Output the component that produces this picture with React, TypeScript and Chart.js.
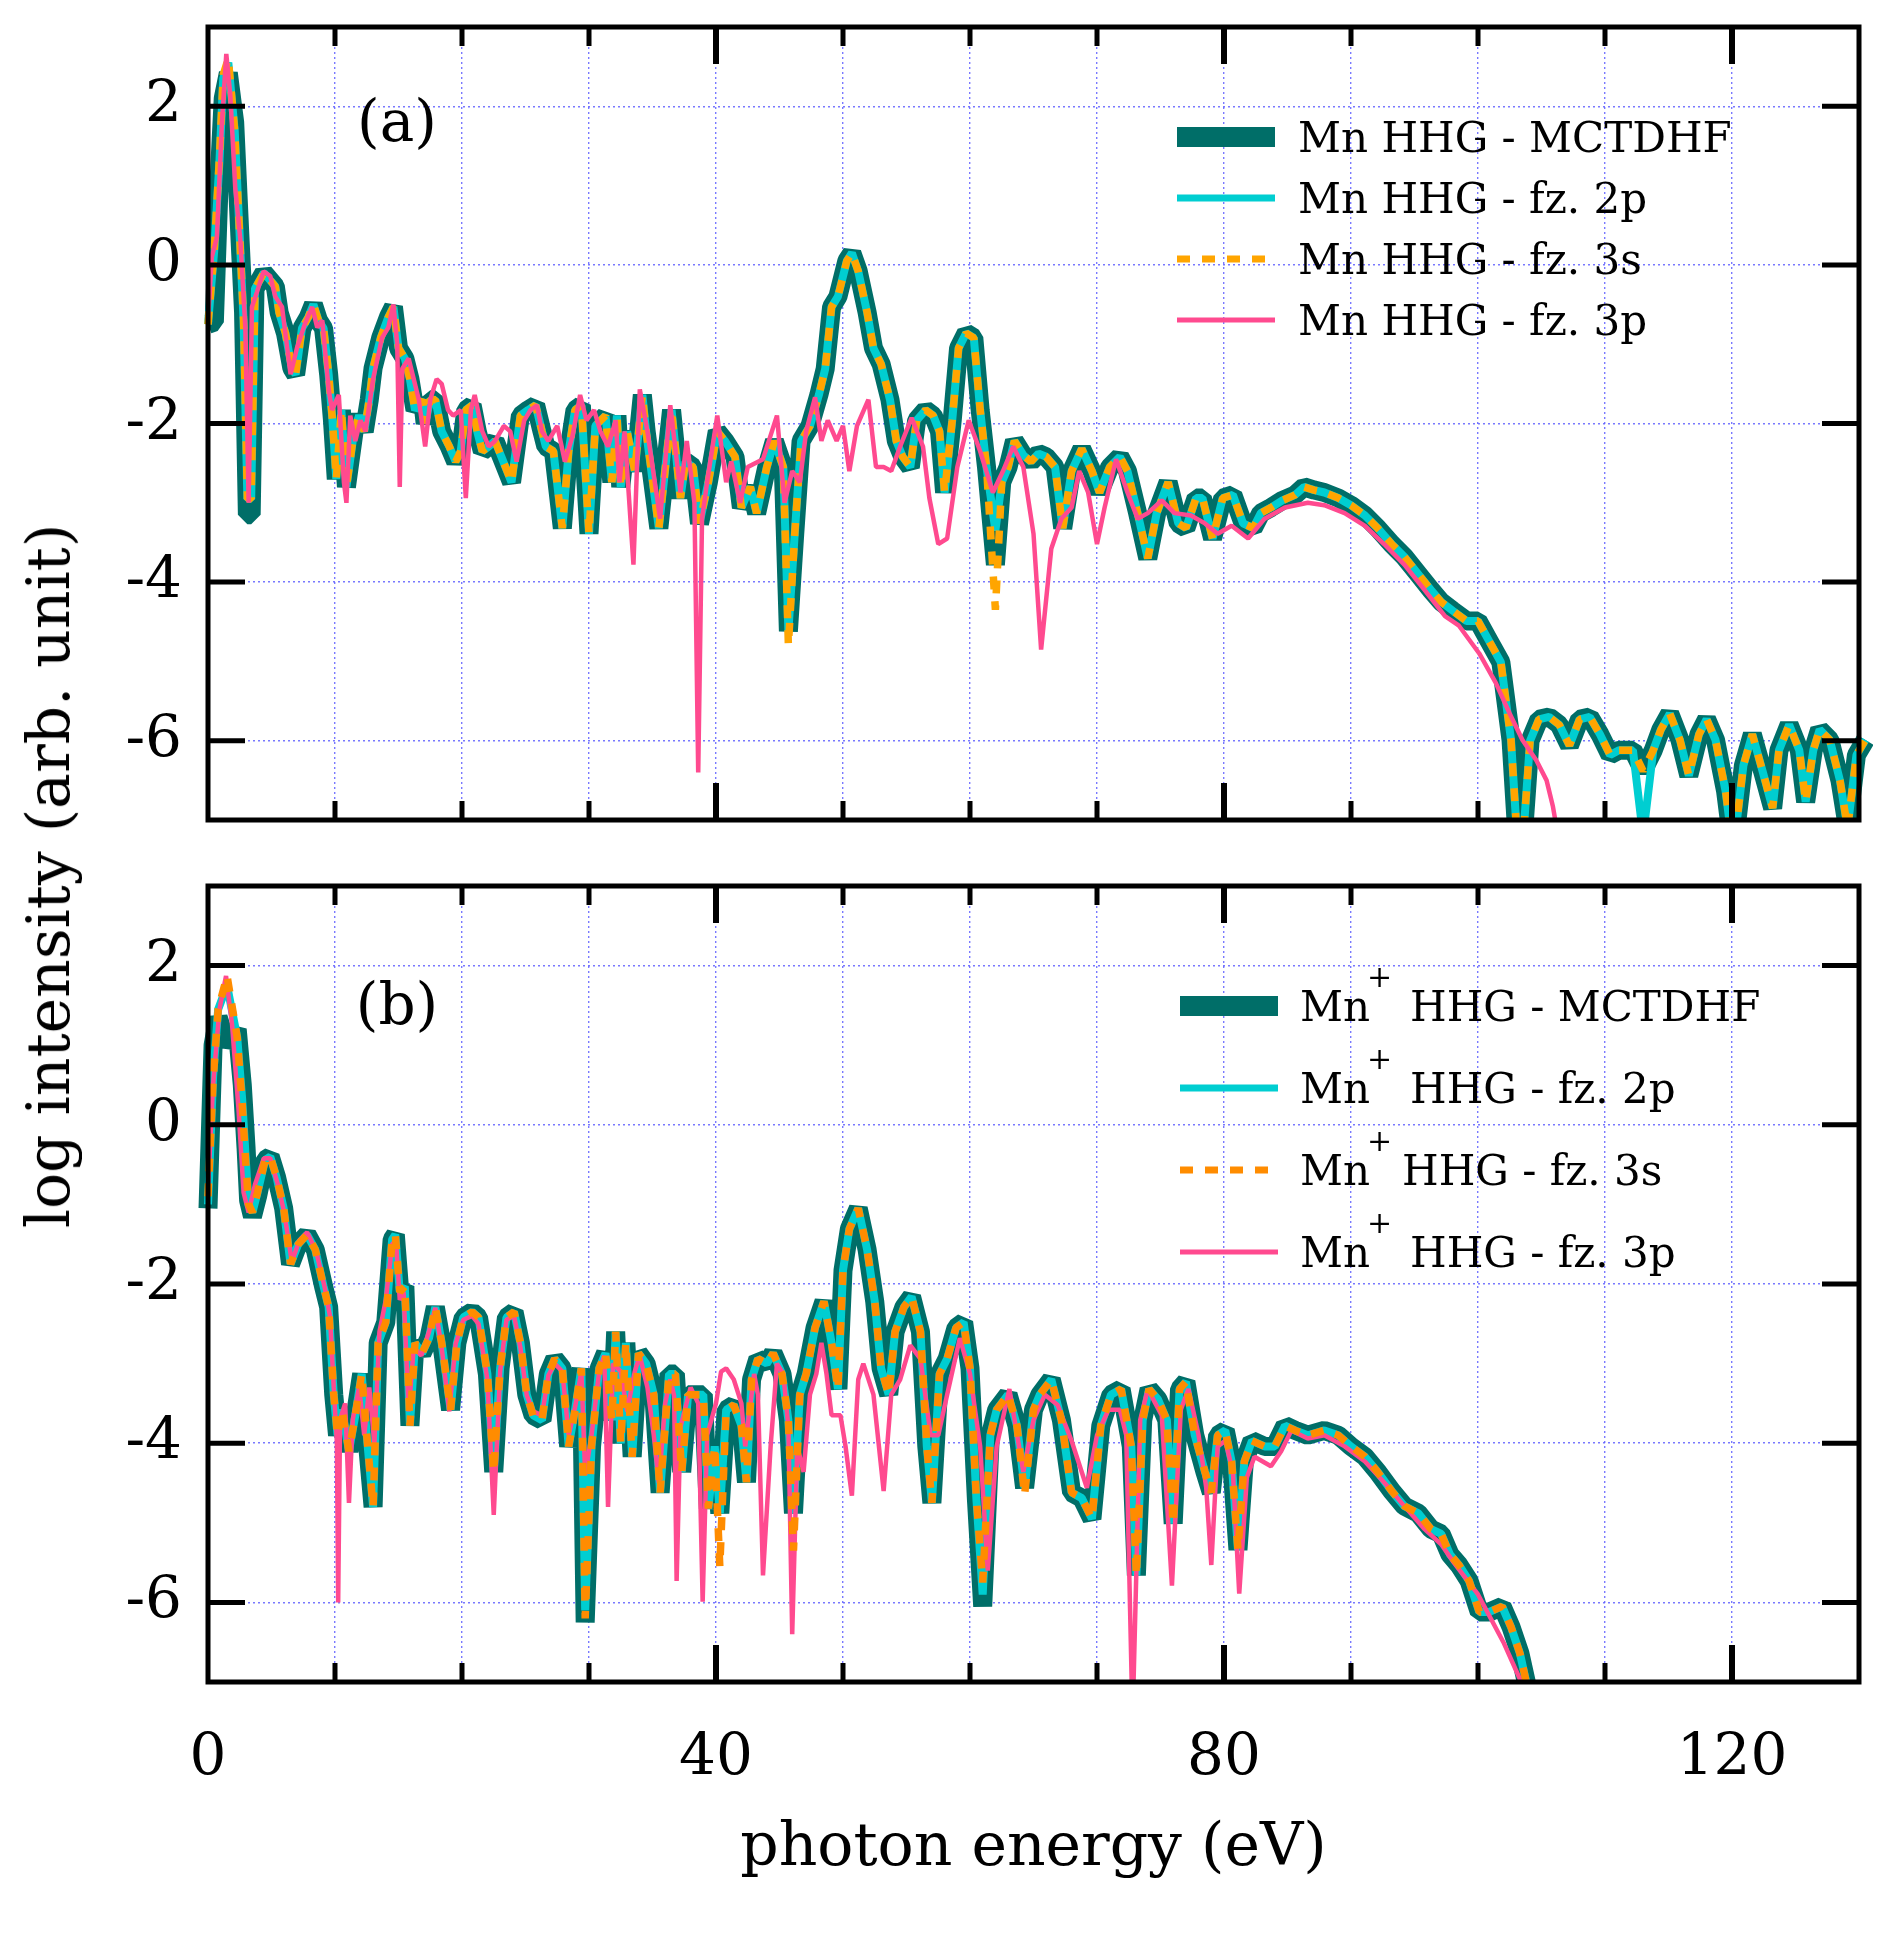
import React, { useEffect, useRef } from 'react';
import { Chart, registerables } from 'chart.js';

Chart.register(...registerables);

const FONT = '"DejaVu Serif", "Liberation Serif", serif';

// ---------- axes ----------
const X_MIN = 0;
const X_MAX = 130;
const Y_MIN = -7;
const Y_MAX = 3;
const X_GRID = [0, 10, 20, 30, 40, 50, 60, 70, 80, 90, 100, 110, 120, 130];
const X_LABELED = [0, 40, 80, 120];
const X_FRAME_TICKS = [10, 20, 30, 40, 50, 60, 70, 80, 90, 100, 110, 120];
const Y_TICKS = [-6, -4, -2, 0, 2];

// ---------- panel (a): Mn ----------
const ENERGY_A = [
  0, 0.5, 0.9, 1.2, 1.6, 2.1, 2.5, 2.8, 3.1, 3.4,
  3.7, 4.4, 5.3, 5.6, 6.1, 6.6, 6.9, 7.4, 7.9, 8.3,
  8.7, 9.1, 9.5, 9.8, 10.1, 10.5, 10.9, 11.5, 11.9, 12.3,
  12.7, 13.0, 13.6, 14.2, 14.6, 15.0, 15.5, 15.9, 16.3, 16.9,
  17.1, 17.5, 17.9, 18.4, 19.0, 19.5, 19.9, 20.3, 20.8, 21.2,
  21.6, 22.1, 22.6, 23.1, 23.9, 24.6, 25.2, 25.8, 26.3, 26.6,
  27.2, 27.9, 28.4, 28.9, 29.4, 30.0, 30.5, 31.3, 31.8, 32.2,
  32.5, 33.0, 33.6, 34.2, 34.5, 35.5, 36.5, 37.2, 37.6, 38.2,
  38.7, 39.4, 40.1, 40.7, 41.5, 42.0, 42.7, 43.2, 44.0, 44.6,
  45.3, 45.7, 46.2, 46.7, 47.4, 48.1, 48.6, 49.1, 49.6, 50.3,
  50.7, 51.2, 51.9, 52.4, 53.0, 53.7, 54.2, 54.7, 55.3, 55.8,
  56.5, 57.1, 57.6, 58.0, 58.6, 59.1, 59.7, 60.3, 60.8, 61.3,
  62.0, 62.5, 63.0, 63.5, 64.2, 64.8, 65.4, 66.0, 66.7, 67.3,
  68.0, 68.8, 69.6, 70.2, 71.0, 71.8, 72.4, 73.2, 74.0, 74.7,
  75.6, 76.4, 77.0, 77.8, 78.3, 79.1, 79.9, 80.7, 81.5, 82.3,
  82.9, 83.7, 84.6, 85.6, 86.3, 87.1, 87.9, 89.0, 90.0, 91.1,
  92.1, 93.2, 94.2, 95.3, 96.3, 97.1, 98.0, 99.1, 100.0, 100.9,
  101.8, 102.6, 103.3, 104.1, 104.8, 105.6, 106.4, 107.2, 108.0, 108.8,
  109.6, 110.4, 111.1, 112.2, 113.0, 113.8, 114.4, 115.1, 115.9, 116.6,
  117.4, 118.0, 118.7, 119.5, 120.1, 120.9, 121.6, 122.4, 123.2, 123.7,
  124.5, 125.3, 125.8, 126.4, 126.9, 127.7, 128.5, 129.1, 129.8, 130.5,
];

const MN_MCTDHF = [
  -0.75, -0.72, 1.15, 2.1, 2.42, 1.8, 0.4, -0.6, -3.15, -3.15,
  -0.3, -0.1, -0.27, -0.6, -0.86, -1.3, -1.38, -0.8, -0.66, -0.5,
  -0.7, -0.8, -1.38, -1.96, -2.7, -1.83, -2.8, -2.1, -1.9, -2.1,
  -1.7, -1.3, -0.92, -0.66, -0.53, -1.05, -1.18, -1.44, -1.83, -1.7,
  -2.0, -1.7, -1.7, -2.1, -2.29, -2.48, -2.35, -1.83, -1.77, -2.1,
  -2.35, -2.29, -2.22, -2.42, -2.74, -1.9, -1.83, -1.77, -2.1, -2.29,
  -2.35, -3.32, -2.35, -1.83, -1.77, -3.39, -2.03, -1.9, -2.74, -1.9,
  -2.8, -2.1, -2.6, -1.64, -2.1, -3.32, -1.83, -2.94, -2.48, -2.55,
  -3.26, -2.74, -2.1, -2.22, -2.42, -3.06, -2.8, -3.13, -2.55, -2.22,
  -2.55, -4.62, -3.39, -2.22, -2.03, -1.64, -1.31, -0.53, -0.4, 0.05,
  0.15, -0.08, -0.6, -1.05, -1.25, -1.7, -2.22, -2.42, -2.55, -1.96,
  -1.83, -1.9, -2.1, -2.87, -1.96, -1.05, -0.86, -0.92, -1.83, -2.55,
  -3.78, -2.74, -2.55, -2.22, -2.4, -2.48, -2.38, -2.42, -2.55, -3.32,
  -2.6, -2.32, -2.6, -2.87, -2.55, -2.42, -2.6, -3.13, -3.7, -3.13,
  -2.74, -3.26, -3.32, -2.94, -2.94, -3.45, -2.94, -2.9, -3.26, -3.32,
  -3.13, -3.06, -2.97, -2.9, -2.8, -2.84, -2.87, -2.94, -3.03, -3.16,
  -3.32, -3.52, -3.68, -3.9, -4.1, -4.25, -4.36, -4.49, -4.49, -4.75,
  -5.01, -5.99, -7.8, -6.0, -5.73, -5.7, -5.8, -6.06, -5.73, -5.7,
  -5.92, -6.18, -6.12, -6.12, -6.38, -6.12, -5.86, -5.66, -5.99, -6.44,
  -5.92, -5.73, -5.99, -6.64, -7.4, -6.31, -5.92, -6.38, -6.85, -6.12,
  -5.8, -6.12, -6.77, -6.12, -5.86, -5.99, -6.5, -7.1, -6.18, -5.99,
];

const MN_FZ2P = [
  -0.75, 0.2, 1.3, 2.35, 2.55, 1.7, 0.35, -0.7, -2.95, -2.95,
  -0.3, -0.1, -0.27, -0.6, -0.86, -1.3, -1.38, -0.8, -0.66, -0.5,
  -0.7, -0.8, -1.38, -1.96, -2.7, -1.83, -2.8, -2.1, -1.9, -2.1,
  -1.7, -1.3, -0.92, -0.66, -0.53, -1.05, -1.18, -1.44, -1.83, -1.7,
  -2.0, -1.7, -1.7, -2.1, -2.29, -2.48, -2.35, -1.83, -1.77, -2.1,
  -2.35, -2.29, -2.22, -2.42, -2.74, -1.9, -1.83, -1.77, -2.1, -2.29,
  -2.35, -3.32, -2.35, -1.83, -1.77, -3.39, -2.03, -1.9, -2.74, -1.9,
  -2.8, -2.1, -2.6, -1.64, -2.1, -3.32, -1.83, -2.94, -2.48, -2.55,
  -3.26, -2.74, -2.1, -2.22, -2.42, -3.06, -2.8, -3.13, -2.55, -2.22,
  -2.55, -4.62, -3.39, -2.22, -2.03, -1.64, -1.31, -0.53, -0.4, 0.05,
  0.15, -0.08, -0.6, -1.05, -1.25, -1.7, -2.22, -2.42, -2.55, -1.96,
  -1.83, -1.9, -2.1, -2.87, -1.96, -1.05, -0.86, -0.92, -1.83, -2.55,
  -3.35, -2.74, -2.55, -2.22, -2.4, -2.48, -2.38, -2.42, -2.55, -3.32,
  -2.6, -2.32, -2.6, -2.87, -2.55, -2.42, -2.6, -3.13, -3.7, -3.13,
  -2.74, -3.26, -3.32, -2.94, -2.94, -3.45, -2.94, -2.9, -3.26, -3.32,
  -3.13, -3.06, -2.97, -2.9, -2.8, -2.84, -2.87, -2.94, -3.03, -3.16,
  -3.32, -3.52, -3.68, -3.9, -4.1, -4.25, -4.36, -4.49, -4.49, -4.75,
  -5.01, -5.99, -7.8, -6.0, -5.73, -5.7, -5.8, -6.06, -5.73, -5.7,
  -5.92, -6.18, -6.12, -6.12, -7.2, -6.12, -5.86, -5.66, -5.99, -6.44,
  -5.92, -5.73, -5.99, -6.64, -7.4, -6.31, -5.92, -6.38, -6.85, -6.12,
  -5.8, -6.12, -6.77, -6.12, -5.86, -5.99, -6.5, -7.1, -6.18, -5.99,
];

const MN_FZ3S = [
  -0.75, 0.2, 1.35, 2.4, 2.6, 1.7, 0.35, -0.7, -2.95, -2.95,
  -0.3, -0.1, -0.27, -0.6, -0.86, -1.3, -1.38, -0.8, -0.66, -0.5,
  -0.7, -0.8, -1.38, -1.96, -2.7, -1.83, -2.8, -2.1, -1.9, -2.1,
  -1.7, -1.3, -0.92, -0.66, -0.53, -1.05, -1.18, -1.44, -1.83, -1.7,
  -2.0, -1.7, -1.7, -2.1, -2.29, -2.48, -2.35, -1.83, -1.77, -2.1,
  -2.35, -2.29, -2.22, -2.42, -2.74, -1.9, -1.83, -1.77, -2.1, -2.29,
  -2.35, -3.32, -2.35, -1.83, -1.77, -3.39, -2.03, -1.9, -2.74, -1.9,
  -2.8, -2.1, -2.6, -1.64, -2.1, -3.32, -1.83, -2.94, -2.48, -2.55,
  -3.26, -2.74, -2.1, -2.22, -2.42, -3.06, -2.8, -3.13, -2.55, -2.22,
  -2.55, -4.8, -3.39, -2.22, -2.03, -1.64, -1.31, -0.53, -0.4, 0.05,
  0.15, -0.08, -0.6, -1.05, -1.25, -1.7, -2.22, -2.42, -2.55, -1.96,
  -1.83, -1.9, -2.1, -2.87, -1.96, -1.05, -0.86, -0.92, -1.83, -2.55,
  -4.35, -2.74, -2.55, -2.22, -2.4, -2.48, -2.38, -2.42, -2.55, -3.32,
  -2.6, -2.32, -2.6, -2.87, -2.55, -2.42, -2.6, -3.13, -3.7, -3.13,
  -2.74, -3.26, -3.32, -2.94, -2.94, -3.45, -2.94, -2.9, -3.26, -3.32,
  -3.13, -3.06, -2.97, -2.9, -2.8, -2.84, -2.87, -2.94, -3.03, -3.16,
  -3.32, -3.52, -3.68, -3.9, -4.1, -4.25, -4.36, -4.49, -4.49, -4.75,
  -5.01, -5.99, -7.8, -6.0, -5.73, -5.7, -5.8, -6.06, -5.73, -5.7,
  -5.92, -6.18, -6.12, -6.12, -6.38, -6.12, -5.86, -5.66, -5.99, -6.44,
  -5.92, -5.73, -5.99, -6.64, -7.4, -6.31, -5.92, -6.38, -6.85, -6.12,
  -5.8, -6.12, -6.77, -6.12, -5.86, -5.99, -6.5, -7.1, -6.18, -5.99,
];

const ENERGY_A_3P = [
  0, 0.3, 0.7, 1.1, 1.44, 1.76, 2.15, 2.55, 2.94, 3.2,
  3.46, 3.86, 4.38, 4.9, 5.3, 5.83, 6.5, 7.0, 7.66, 8.2,
  8.6, 9.0, 9.5, 9.76, 10.3, 10.7, 10.9, 11.2, 11.6, 12.0,
  12.4, 13.0, 13.7, 14.2, 14.6, 14.9, 15.1, 15.3, 15.8, 16.2,
  16.6, 17.1, 17.5, 18.0, 18.4, 18.9, 19.3, 19.9, 20.3, 20.7,
  21.0, 21.6, 22.1, 22.6, 23.3, 23.8, 24.3, 24.9, 25.4, 25.9,
  26.3, 26.8, 27.5, 28.1, 28.7, 29.3, 29.8, 30.4, 30.9, 31.5,
  32.1, 32.4, 32.8, 33.5, 34.0, 34.6, 35.6, 36.4, 37.2, 37.7,
  38.3, 38.6, 38.9, 39.3, 40.1, 40.8, 41.2, 41.9, 42.5, 43.7,
  44.8, 45.4, 46.0, 46.6, 47.1, 47.8, 48.3, 48.8, 49.5, 50.0,
  50.5, 51.1, 52.0, 52.6, 53.2, 53.8, 54.5, 55.4, 56.3, 56.8,
  57.5, 58.2, 59.0, 59.9, 60.8, 61.8, 62.6, 63.4, 64.2, 65.0,
  65.6, 66.4, 67.2, 68.0, 68.6, 69.3, 70.0, 70.6, 71.5, 72.4,
  73.2, 74.0, 75.1, 76.1, 77.4, 78.5, 79.5, 80.6, 81.9, 83.2,
  84.8, 86.6, 87.9, 89.5, 91.1, 92.6, 94.2, 95.8, 97.4, 98.5,
  100.1, 101.4, 102.5, 103.5, 104.6, 105.4, 105.9, 106.3,
];

const MN_FZ3P = [
  -0.7, 0.1, 0.35, 1.8, 2.66, 2.13, 0.96, 0.31, -0.79, -3.0,
  -0.53, -0.34, -0.08, -0.14, -0.4, -0.53, -1.38, -1.05, -0.73, -0.53,
  -0.79, -0.7, -1.57, -1.83, -1.64, -2.74, -3.0, -1.9, -2.22, -1.96,
  -2.1, -1.44, -0.92, -0.79, -0.5, -1.0, -2.8, -1.31, -1.18, -1.44,
  -1.7, -2.29, -1.7, -1.44, -1.5, -1.83, -1.9, -1.83, -2.94, -1.83,
  -1.64, -2.1, -2.29, -2.22, -2.03, -2.1, -2.48, -1.96, -1.83, -1.77,
  -2.1, -2.22, -2.03, -2.48, -2.16, -1.64, -1.96, -1.83, -2.1, -2.29,
  -1.96, -2.74, -2.1, -3.78, -1.57, -2.1, -3.2, -1.77, -2.87, -2.22,
  -3.0, -6.4, -3.2, -2.74, -1.9, -2.74, -2.48, -3.0, -2.55, -2.45,
  -1.9, -3.0, -2.6, -2.74, -2.1, -1.67, -2.22, -1.96, -2.22, -2.03,
  -2.6, -2.03, -1.7, -2.55, -2.55, -2.6, -2.29, -1.93, -2.29, -2.94,
  -3.52, -3.45, -2.55, -1.96, -2.35, -2.87, -2.6, -2.29, -2.55, -3.39,
  -4.85, -3.58, -3.2, -3.06, -2.6, -2.87, -3.52, -3.06, -2.45, -2.87,
  -3.2, -3.13, -2.97, -3.13, -3.16, -3.26, -3.39, -3.29, -3.45, -3.2,
  -3.06, -3.0, -3.03, -3.13, -3.29, -3.52, -3.78, -4.1, -4.43, -4.55,
  -4.9, -5.27, -5.66, -5.99, -6.25, -6.5, -6.83, -7.2,
];

// ---------- panel (b): Mn+ ----------
const ENERGY_B = [
  0, 0.4, 0.8, 1.5, 2.3, 2.7, 3.0, 3.2, 3.5, 3.9,
  4.5, 4.9, 5.4, 5.96, 6.5, 7.1, 7.8, 8.45, 9.1, 9.5,
  9.9, 10.2, 10.55, 11.1, 11.6, 12.1, 12.5, 13.0, 13.4, 14.0,
  14.5, 14.75, 15.1, 15.5, 15.9, 16.3, 16.85, 17.4, 17.9, 18.4,
  19.1, 19.6, 20.1, 20.8, 21.3, 22.0, 22.5, 23.0, 23.5, 24.1,
  24.6, 25.1, 25.6, 26.3, 26.8, 27.3, 27.9, 28.4, 28.9, 29.4,
  29.7, 30.2, 30.8, 31.3, 31.8, 32.1, 32.5, 32.9, 33.4, 33.9,
  34.5, 35.1, 35.6, 36.3, 36.8, 37.3, 37.8, 38.4, 39.0, 39.4,
  39.9, 40.3, 40.8, 41.4, 42.0, 42.4, 42.8, 43.3, 44.0, 44.5,
  45.2, 45.7, 46.1, 46.6, 47.1, 47.8, 48.5, 49.1, 49.6, 50.0,
  50.5, 51.2, 51.9, 52.5, 53.0, 53.6, 54.1, 54.8, 55.4, 56.1,
  56.6, 57.0, 57.6, 58.2, 58.9, 59.5, 60.0, 60.5, 61.0, 61.6,
  62.1, 63.0, 63.7, 64.3, 65.0, 65.5, 66.4, 67.2, 68.0, 68.8,
  69.6, 70.3, 71.1, 71.9, 72.7, 73.1, 73.6, 74.1, 74.8, 75.5,
  76.0, 76.5, 77.0, 77.7, 78.5, 79.0, 79.5, 80.1, 80.6, 81.1,
  81.6, 82.2, 83.2, 84.0, 84.8, 85.6, 86.6, 87.9, 89.0, 90.0,
  91.1, 92.1, 93.2, 94.2, 95.3, 96.3, 97.1, 97.8, 98.5, 99.3,
  100.1, 100.9, 101.9, 102.6, 103.3, 103.8, 104.3,
];

const MNP_MCTDHF = [
  -1.05, 1.0, 1.35, 1.0, 1.2, 0.5, -0.3, -0.95, -1.15, -0.9,
  -0.44, -0.4, -0.66, -1.05, -1.75, -1.5, -1.38, -1.57, -2.03, -2.29,
  -3.39, -3.9, -3.58, -4.1, -3.65, -3.13, -3.9, -4.8, -2.74, -2.48,
  -1.44, -1.38, -2.1, -2.03, -3.78, -2.74, -2.87, -2.68, -2.29, -2.74,
  -3.58, -2.74, -2.42, -2.35, -2.42, -3.13, -4.36, -3.06, -2.42, -2.35,
  -2.74, -3.39, -3.65, -3.71, -3.13, -2.94, -3.06, -4.04, -3.58, -3.06,
  -6.25, -4.04, -3.06, -2.87, -3.71, -2.6, -4.0, -2.74, -4.17, -2.87,
  -3.0, -3.39, -4.62, -3.13, -3.13, -4.36, -3.39, -3.39, -3.39, -4.82,
  -4.04, -4.88, -3.58, -3.52, -3.78, -4.49, -3.2, -2.94, -3.0, -2.87,
  -3.13, -3.71, -4.88, -3.39, -3.13, -2.55, -2.22, -2.74, -3.32, -1.83,
  -1.31, -1.05, -1.57, -2.22, -3.06, -3.39, -2.6, -2.29, -2.16, -2.6,
  -4.04, -4.75, -3.13, -2.94, -2.55, -2.48, -3.06, -4.69, -6.05, -3.9,
  -3.58, -3.39, -3.78, -4.56, -3.58, -3.39, -3.2, -3.71, -4.62, -4.69,
  -4.95, -3.78, -3.39, -3.32, -4.04, -5.66, -3.71, -3.32, -3.45, -3.71,
  -5.01, -3.32, -3.23, -3.9, -4.36, -4.62, -3.9, -3.84, -4.23, -5.34,
  -4.23, -3.97, -4.04, -4.04, -3.78, -3.84, -3.9, -3.84, -3.9, -4.04,
  -4.17, -4.36, -4.6, -4.79, -4.88, -5.08, -5.14, -5.4, -5.53, -5.73,
  -6.12, -6.12, -6.05, -6.31, -6.64, -7.0, -7.4,
];

const MNP_FZ2P = [
  -1.0, 0.6, 1.45, 1.75, 1.1, 0.3, -0.5, -1.0, -1.1, -0.85,
  -0.44, -0.4, -0.66, -1.05, -1.75, -1.5, -1.38, -1.57, -2.03, -2.29,
  -3.39, -3.9, -3.58, -4.1, -3.65, -3.13, -3.9, -4.8, -2.74, -2.48,
  -1.44, -1.38, -2.1, -2.03, -3.78, -2.74, -2.87, -2.68, -2.29, -2.74,
  -3.58, -2.74, -2.42, -2.35, -2.42, -3.13, -4.36, -3.06, -2.42, -2.35,
  -2.74, -3.39, -3.65, -3.71, -3.13, -2.94, -3.06, -4.04, -3.58, -3.06,
  -6.1, -4.04, -3.06, -2.87, -3.71, -2.6, -4.0, -2.74, -4.17, -2.87,
  -3.0, -3.39, -4.62, -3.13, -3.13, -4.36, -3.39, -3.39, -3.39, -4.82,
  -4.04, -4.88, -3.58, -3.52, -3.78, -4.49, -3.2, -2.94, -3.0, -2.87,
  -3.13, -3.71, -4.88, -3.39, -3.13, -2.55, -2.22, -2.74, -3.32, -1.83,
  -1.31, -1.05, -1.57, -2.22, -3.06, -3.39, -2.6, -2.29, -2.16, -2.6,
  -4.04, -4.75, -3.13, -2.94, -2.55, -2.48, -3.06, -4.69, -5.9, -3.9,
  -3.58, -3.39, -3.78, -4.56, -3.58, -3.39, -3.2, -3.71, -4.62, -4.69,
  -4.95, -3.78, -3.39, -3.32, -4.04, -5.66, -3.71, -3.32, -3.45, -3.71,
  -5.01, -3.32, -3.23, -3.9, -4.36, -4.62, -3.9, -3.84, -4.23, -5.34,
  -4.23, -3.97, -4.04, -4.04, -3.78, -3.84, -3.9, -3.84, -3.9, -4.04,
  -4.17, -4.36, -4.6, -4.79, -4.88, -5.08, -5.14, -5.4, -5.53, -5.73,
  -6.12, -6.12, -6.05, -6.31, -6.64, -7.0, -7.4,
];

const MNP_FZ3S = [
  -0.9, 0.55, 1.45, 1.87, 1.1, 0.25, -0.55, -1.0, -1.1, -0.85,
  -0.44, -0.4, -0.66, -1.05, -1.75, -1.5, -1.38, -1.57, -2.03, -2.29,
  -3.39, -3.9, -3.58, -4.1, -3.65, -3.13, -3.9, -4.8, -2.74, -2.48,
  -1.44, -1.38, -2.1, -2.03, -3.78, -2.74, -2.87, -2.68, -2.29, -2.74,
  -3.58, -2.74, -2.42, -2.35, -2.42, -3.13, -4.36, -3.06, -2.42, -2.35,
  -2.74, -3.39, -3.65, -3.71, -3.13, -2.94, -3.06, -4.04, -3.58, -3.06,
  -6.2, -4.04, -3.06, -2.87, -3.71, -2.6, -4.0, -2.74, -4.17, -2.87,
  -3.0, -3.39, -4.62, -3.13, -3.13, -4.36, -3.39, -3.39, -3.39, -4.82,
  -4.04, -5.55, -3.58, -3.52, -3.78, -4.49, -3.2, -2.94, -3.0, -2.87,
  -3.13, -3.71, -5.35, -3.39, -3.13, -2.55, -2.22, -2.74, -3.32, -1.83,
  -1.31, -1.05, -1.57, -2.22, -3.06, -3.39, -2.6, -2.29, -2.16, -2.6,
  -4.04, -4.75, -3.13, -2.94, -2.55, -2.48, -3.06, -4.69, -5.75, -3.9,
  -3.58, -3.39, -3.78, -4.65, -3.58, -3.39, -3.2, -3.71, -4.62, -4.69,
  -4.95, -3.78, -3.39, -3.32, -4.04, -5.66, -3.71, -3.32, -3.45, -3.71,
  -5.01, -3.32, -3.23, -3.9, -4.36, -4.62, -3.9, -3.84, -4.23, -5.34,
  -4.23, -3.97, -4.04, -4.04, -3.78, -3.84, -3.9, -3.84, -3.9, -4.04,
  -4.17, -4.36, -4.6, -4.79, -4.88, -5.08, -5.14, -5.4, -5.53, -5.73,
  -6.12, -6.12, -6.05, -6.31, -6.64, -7.0, -7.4,
];

const ENERGY_B_3P = [
  0, 0.4, 0.9, 1.42, 1.9, 2.4, 2.8, 3.2, 3.7, 4.4,
  4.9, 5.5, 6.0, 6.6, 7.2, 7.8, 8.5, 9.2, 9.6, 9.9,
  10.15, 10.25, 10.4, 10.8, 11.1, 11.4, 11.9, 12.3, 12.7, 13.1,
  13.5, 14.0, 14.5, 14.8, 15.1, 15.4, 15.8, 16.2, 16.8, 17.4,
  17.9, 18.4, 19.0, 19.5, 20.1, 20.8, 21.3, 22.0, 22.5, 23.0,
  23.5, 24.1, 24.6, 25.1, 25.6, 26.3, 26.8, 27.3, 27.9, 28.4,
  28.9, 29.4, 29.7, 30.2, 30.8, 31.2, 31.5, 31.9, 32.5, 33.0,
  33.6, 34.0, 34.6, 35.1, 35.5, 36.0, 36.4, 36.7, 36.9, 37.2,
  38.0, 38.6, 38.95, 39.3, 40.0, 40.4, 40.8, 41.4, 42.0, 42.3,
  43.0, 43.3, 43.7, 44.3, 44.8, 45.3, 45.7, 46.0, 46.4, 46.9,
  47.4, 47.9, 48.3, 48.7, 49.1, 49.8, 50.2, 50.7, 51.2, 51.6,
  52.4, 53.2, 53.8, 54.5, 55.3, 56.1, 56.9, 57.5, 58.2, 59.2,
  60.0, 60.8, 61.4, 62.1, 63.1, 64.2, 65.0, 65.9, 66.9, 68.0,
  69.2, 70.0, 70.9, 71.8, 72.3, 72.8, 73.4, 74.0, 75.1, 75.9,
  76.6, 77.2, 78.0, 78.6, 79.0, 79.5, 80.1, 80.7, 81.2, 81.8,
  82.4, 83.7, 84.5, 85.3, 86.6, 87.9, 89.5, 91.1, 92.6, 94.2,
  95.8, 97.1, 98.1, 100.0, 102.0, 103.4, 103.8,
];

const MNP_FZ3P = [
  -0.8, 0.5, 1.45, 1.87, 1.25, 0.2, -0.85, -1.1, -0.75, -0.42,
  -0.42, -0.75, -1.1, -1.72, -1.45, -1.35, -1.58, -2.05, -2.4, -3.3,
  -4.0, -6.0, -3.7, -3.5, -4.75, -3.7, -3.3, -3.9, -3.3, -4.0,
  -2.6, -2.2, -1.5, -1.45, -2.2, -2.1, -3.6, -2.8, -2.9, -2.6,
  -2.3, -2.8, -3.6, -2.75, -2.45, -2.4, -2.5, -3.2, -4.9, -3.1,
  -2.45, -2.4, -2.8, -3.4, -3.6, -3.65, -3.15, -3.0, -3.1, -3.9,
  -3.55, -3.1, -4.4, -3.9, -3.1, -2.9, -4.8, -3.0, -3.1, -3.6,
  -3.1, -2.9, -3.3, -3.9, -4.5, -3.5, -3.2, -3.4, -5.73, -3.8,
  -3.3, -3.5, -5.99, -3.9, -3.5, -3.1, -3.06, -3.2, -3.5, -4.04,
  -3.13, -3.39, -5.66, -4.04, -3.0, -3.13, -3.8, -6.4, -4.04, -4.36,
  -3.39, -3.13, -2.74, -3.13, -3.65, -3.65, -4.04, -4.66, -3.2, -3.0,
  -3.39, -4.6, -3.39, -3.2, -2.77, -2.94, -3.9, -3.9, -3.39, -2.68,
  -3.13, -4.04, -5.6, -4.04, -3.32, -4.36, -3.71, -3.39, -3.52, -3.97,
  -4.56, -3.9, -3.58, -3.58, -3.9, -7.5, -3.71, -3.32, -3.65, -5.79,
  -3.58, -3.32, -3.9, -4.56, -5.53, -4.04, -3.97, -4.36, -5.89, -4.43,
  -4.17, -4.29, -4.1, -3.84, -3.94, -3.9, -4.04, -4.23, -4.49, -4.79,
  -5.08, -5.27, -5.5, -5.9, -6.5, -7.0, -7.2,
];

// ---------- styling ----------
const TEAL = '#006e68';
const CYAN = '#00ced1';
const ORANGE_A = '#ffa500';
const ORANGE_B = '#ff8c00';
const PINK = '#ff4a8f';
const GRID = 'rgba(98, 98, 255, 0.85)';

const TICK_SIZE = 58;
const TITLE_SIZE = 60;
const LEGEND_SIZE = 42;
const TAG_SIZE = 58;

const PAGE_W = 1890;
const PLOT_LEFT = 208;
const PLOT_RIGHT = 1859;

type Run = { t: string; dx: number; size?: number; dy?: number };
type Series = {
  xs: number[];
  ys: number[];
  color: string;
  width: number;
  legendWidth: number;
  dash?: number[];
  order: number;
  text: Run[];
};

const supRuns = (rest: string, restDx: number): Run[] => [
  { t: 'Mn', dx: 0 },
  { t: '+', dx: 67, size: 30, dy: -34 },
  { t: rest, dx: restDx },
];

const PANEL_A = {
  height: 850,
  top: 27,
  bottom: 820,
  showXLabels: false,
  tag: { text: '(a)', x: 397, y: 126 },
  legend: { hx0: 1177, hx1: 1275, tx: 1298, y0: 137, dy: 61 },
  series: [
    { xs: ENERGY_A, ys: MN_MCTDHF, color: TEAL, width: 19, legendWidth: 20, order: 4, text: [{ t: 'Mn HHG - MCTDHF', dx: 0 }] },
    { xs: ENERGY_A, ys: MN_FZ2P, color: CYAN, width: 8, legendWidth: 7, order: 3, text: [{ t: 'Mn HHG - fz. 2p', dx: 0 }] },
    { xs: ENERGY_A, ys: MN_FZ3S, color: ORANGE_A, width: 7.5, legendWidth: 7, dash: [13, 12], order: 2, text: [{ t: 'Mn HHG - fz. 3s', dx: 0 }] },
    { xs: ENERGY_A_3P, ys: MN_FZ3P, color: PINK, width: 4.5, legendWidth: 5, order: 1, text: [{ t: 'Mn HHG - fz. 3p', dx: 0 }] },
  ] as Series[],
};

const PANEL_B = {
  height: 1084,
  top: 36,
  bottom: 832,
  showXLabels: true,
  tag: { text: '(b)', x: 397, y: 159 },
  legend: { hx0: 1180, hx1: 1278, tx: 1300, y0: 156, dy: 82 },
  series: [
    { xs: ENERGY_B, ys: MNP_MCTDHF, color: TEAL, width: 19, legendWidth: 20, order: 4, text: supRuns('HHG - MCTDHF', 110) },
    { xs: ENERGY_B, ys: MNP_FZ2P, color: CYAN, width: 8, legendWidth: 7, order: 3, text: supRuns('HHG - fz. 2p', 110) },
    { xs: ENERGY_B, ys: MNP_FZ3S, color: ORANGE_B, width: 7.5, legendWidth: 7, dash: [13, 12], order: 1, text: supRuns('HHG - fz. 3s', 102) },
    { xs: ENERGY_B_3P, ys: MNP_FZ3P, color: PINK, width: 4.5, legendWidth: 5, order: 2, text: supRuns('HHG - fz. 3p', 110) },
  ] as Series[],
};

type Panel = typeof PANEL_A;

function toDataset(s: Series) {
  return {
    label: s.text.map((r) => r.t).join(''),
    data: s.xs.map((x, i) => ({ x, y: s.ys[i] })),
    borderColor: s.color,
    borderWidth: s.width,
    borderDash: s.dash ?? [],
    borderJoinStyle: 'bevel',
    borderCapStyle: 'butt',
    pointRadius: 0,
    pointHoverRadius: 0,
    tension: 0,
    fill: false,
    order: s.order,
    clip: { left: 10, top: 0, right: 14, bottom: 0 },
  };
}

// legend, panel tag, frame and inward tick marks
function decorPlugin(panel: Panel) {
  return {
    id: 'panelDecor',
    afterDraw(chart: any) {
      const ctx: CanvasRenderingContext2D = chart.ctx;
      const area = chart.chartArea;
      const xs = chart.scales.x;
      const ys = chart.scales.y;
      const lg = panel.legend;

      ctx.save();
      panel.series.forEach((s, i) => {
        const y = lg.y0 + i * lg.dy;
        ctx.save();
        ctx.beginPath();
        ctx.strokeStyle = s.color;
        ctx.lineWidth = s.legendWidth;
        ctx.lineCap = 'butt';
        ctx.setLineDash(s.dash ?? []);
        ctx.moveTo(lg.hx0, y);
        ctx.lineTo(lg.hx1, y);
        ctx.stroke();
        ctx.restore();

        const base = y + (LEGEND_SIZE * 0.729) / 2;
        ctx.fillStyle = '#000';
        ctx.textAlign = 'left';
        ctx.textBaseline = 'alphabetic';
        s.text.forEach((run) => {
          ctx.font = `${run.size ?? LEGEND_SIZE}px ${FONT}`;
          ctx.fillText(run.t, lg.tx + run.dx, base + (run.dy ?? 0));
        });
      });

      ctx.font = `${TAG_SIZE}px ${FONT}`;
      ctx.fillStyle = '#000';
      ctx.textAlign = 'center';
      ctx.textBaseline = 'middle';
      ctx.fillText(panel.tag.text, panel.tag.x, panel.tag.y);

      ctx.strokeStyle = '#000';
      ctx.setLineDash([]);
      ctx.lineCap = 'butt';
      ctx.lineWidth = 5;
      ctx.strokeRect(area.left, area.top, area.right - area.left, area.bottom - area.top);

      X_FRAME_TICKS.forEach((v) => {
        const px = xs.getPixelForValue(v);
        const major = v % 40 === 0;
        const len = major ? 37 : 19;
        ctx.lineWidth = major ? 6 : 5;
        ctx.beginPath();
        ctx.moveTo(px, area.bottom);
        ctx.lineTo(px, area.bottom - len);
        ctx.moveTo(px, area.top);
        ctx.lineTo(px, area.top + len);
        ctx.stroke();
      });

      ctx.lineWidth = 5;
      Y_TICKS.forEach((v) => {
        const py = ys.getPixelForValue(v);
        ctx.beginPath();
        ctx.moveTo(area.left, py);
        ctx.lineTo(area.left + 37, py);
        ctx.moveTo(area.right, py);
        ctx.lineTo(area.right - 37, py);
        ctx.stroke();
      });
      ctx.restore();
    },
  };
}

function buildChart(canvas: HTMLCanvasElement, panel: Panel) {
  return new Chart(canvas, {
    type: 'line',
    data: { datasets: panel.series.map(toDataset) as any },
    options: {
      responsive: false,
      animation: false,
      devicePixelRatio: 1,
      events: [],
      layout: {
        autoPadding: false,
        padding: { left: 0, right: PAGE_W - PLOT_RIGHT, top: panel.top, bottom: 0 },
      },
      plugins: { legend: { display: false }, tooltip: { enabled: false } },
      scales: {
        x: {
          type: 'linear',
          min: X_MIN,
          max: X_MAX,
          afterBuildTicks: (axis: any) => {
            axis.ticks = X_GRID.map((value) => ({ value }));
          },
          afterFit: (axis: any) => {
            axis.height = panel.height - panel.bottom;
            axis.paddingLeft = 0;
            axis.paddingRight = 0;
          },
          grid: { color: GRID, lineWidth: 1.4, drawTicks: false },
          border: { display: false, dash: [2, 3] },
          ticks: {
            display: panel.showXLabels,
            autoSkip: false,
            maxRotation: 0,
            minRotation: 0,
            padding: 42,
            color: '#000',
            font: { family: FONT, size: TICK_SIZE },
            callback: (v: any) => (X_LABELED.includes(Number(v)) ? String(v) : ''),
          },
          title: {
            display: panel.showXLabels,
            text: 'photon energy (eV)',
            color: '#000',
            font: { family: FONT, size: TITLE_SIZE },
            padding: { top: 0, bottom: 49 },
          },
        },
        y: {
          type: 'linear',
          min: Y_MIN,
          max: Y_MAX,
          afterBuildTicks: (axis: any) => {
            axis.ticks = Y_TICKS.map((value) => ({ value }));
          },
          afterFit: (axis: any) => {
            axis.width = PLOT_LEFT;
            axis.paddingTop = 0;
            axis.paddingBottom = 0;
          },
          grid: { color: GRID, lineWidth: 1.4, drawTicks: false },
          border: { display: false, dash: [2, 3] },
          ticks: {
            padding: 26,
            color: '#000',
            font: { family: FONT, size: TICK_SIZE },
            callback: (v: any) => String(v),
          },
        },
      },
    } as any,
    plugins: [decorPlugin(panel)],
  });
}

export default function App() {
  const refA = useRef<HTMLCanvasElement>(null);
  const refB = useRef<HTMLCanvasElement>(null);

  useEffect(() => {
    const a = buildChart(refA.current!, PANEL_A);
    const b = buildChart(refB.current!, PANEL_B);
    return () => {
      a.destroy();
      b.destroy();
    };
  }, []);

  return (
    <div style={{ position: 'absolute', left: 0, top: 0, width: PAGE_W, height: 1934, background: '#fff', overflow: 'hidden' }}>
      <canvas ref={refA} width={PAGE_W} height={PANEL_A.height} style={{ position: 'absolute', left: 0, top: 0 }} />
      <canvas ref={refB} width={PAGE_W} height={PANEL_B.height} style={{ position: 'absolute', left: 0, top: 850 }} />
      <div
        style={{
          position: 'absolute',
          left: 48,
          top: 876,
          transform: 'translate(-50%, -50%) rotate(-90deg)',
          whiteSpace: 'nowrap',
          fontFamily: FONT,
          fontSize: TITLE_SIZE,
          lineHeight: 1,
          color: '#000',
        }}
      >
        log intensity (arb. unit)
      </div>
    </div>
  );
}
